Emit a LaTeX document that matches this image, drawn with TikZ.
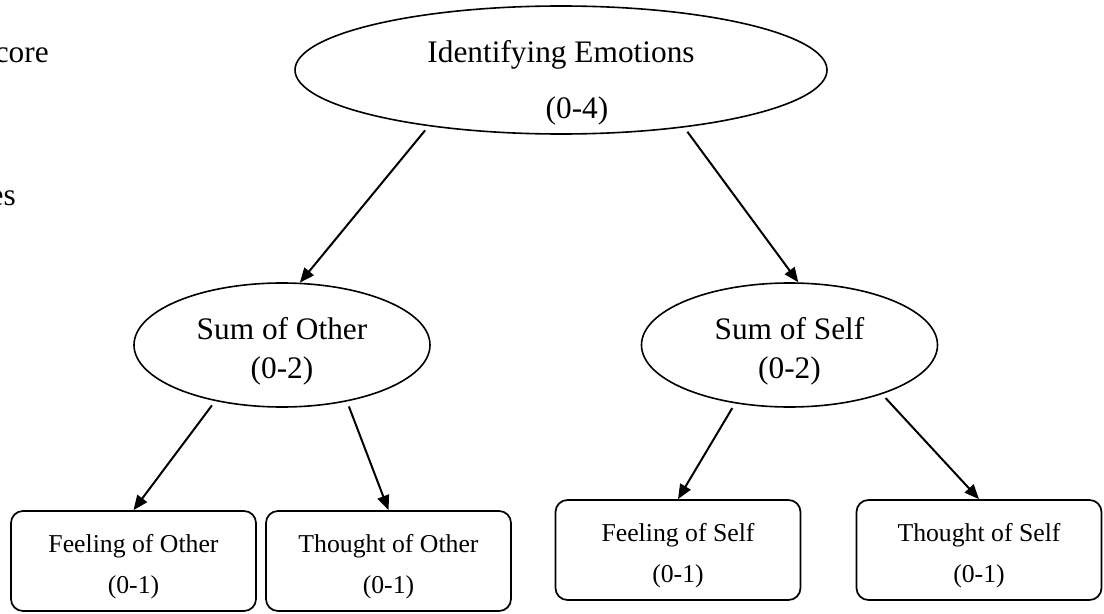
\documentclass[tikz,border=0pt]{standalone}
\usepackage{fontspec}
\setmainfont{Liberation Serif}
\usetikzlibrary{shapes,arrows.meta,positioning,calc}

\newcommand{\bigtxt}{\fontsize{23.5pt}{42pt}\selectfont}
\newcommand{\midtxt}{\fontsize{23.5pt}{29.25pt}\selectfont}
\newcommand{\smalltxt}{\fontsize{19.3pt}{30.75pt}\selectfont}
\newcommand{\twolines}[3]{\raisebox{#3}[0pt][0pt]{\begin{tabular}[b]{@{}c@{}}#1\\#2\end{tabular}}}

\begin{document}
\begin{tikzpicture}[x=0.75pt, y=-0.75pt,
    oval/.style={draw, ellipse, line width=1.2pt, inner sep=0pt},
    leaf/.style={draw, rectangle, rounded corners=9pt, line width=1.3pt, inner sep=0pt,
        minimum width=183.75pt, minimum height=75pt, font=\smalltxt},
    link/.style={-{Triangle[length=11pt,width=9pt]}, line width=1.5pt, shorten <=4pt}]
    \useasboundingbox (0,0) rectangle (1104,614);
    \fill[white] (0,0) rectangle (1104,614);
    \clip (0,0) rectangle (1104,614);

    % Margin text, cut off at the left edge
    \node[font=\bigtxt, inner sep=0pt, anchor=base east] (scoreTail) at (49,62) {core};
    \node[font=\bigtxt, inner sep=0pt, anchor=base east] (notesTail) at (16,205) {es};

    % Total score
    \node[oval, minimum width=399pt, minimum height=96pt, font=\bigtxt] (emo) at (561,70)
        {\twolines{Identifying Emotions}{\hspace*{24pt}(0-4)}{-36pt}};

    % Sub-scores
    \node[oval, minimum width=222pt, minimum height=93pt, font=\midtxt] (sumO) at (282,345)
        {\twolines{Sum of Other}{(0-2)}{-24.75pt}};
    \node[oval, minimum width=222pt, minimum height=93pt, font=\midtxt] (sumS) at (789.5,345)
        {\twolines{Sum of Self}{(0-2)}{-24.75pt}};

    % Items
    \node[leaf] (feelO) at (133.5,561) {\twolines{Feeling of Other}{(0-1)}{-24pt}};
    \node[leaf] (thinkO) at (388.5,561) {\twolines{Thought of Other}{(0-1)}{-24pt}};
    \node[leaf] (feelS) at (678,550) {\twolines{Feeling of Self}{(0-1)}{-24pt}};
    \node[leaf] (thinkS) at (979,550) {\twolines{Thought of Self}{(0-1)}{-24pt}};

    % Arrows
    \draw[link] (emo.203) -- (sumO.74);
    \draw[link] (emo.335) -- (sumS.82);
    \draw[link] (sumO.220) -- (feelO.north);
    \draw[link] (sumO.319) -- (thinkO.north);
    \draw[link] (sumS.227) -- (feelS.north);
    \draw[link] (sumS.332) -- (thinkS.north);
\end{tikzpicture}
\end{document}
